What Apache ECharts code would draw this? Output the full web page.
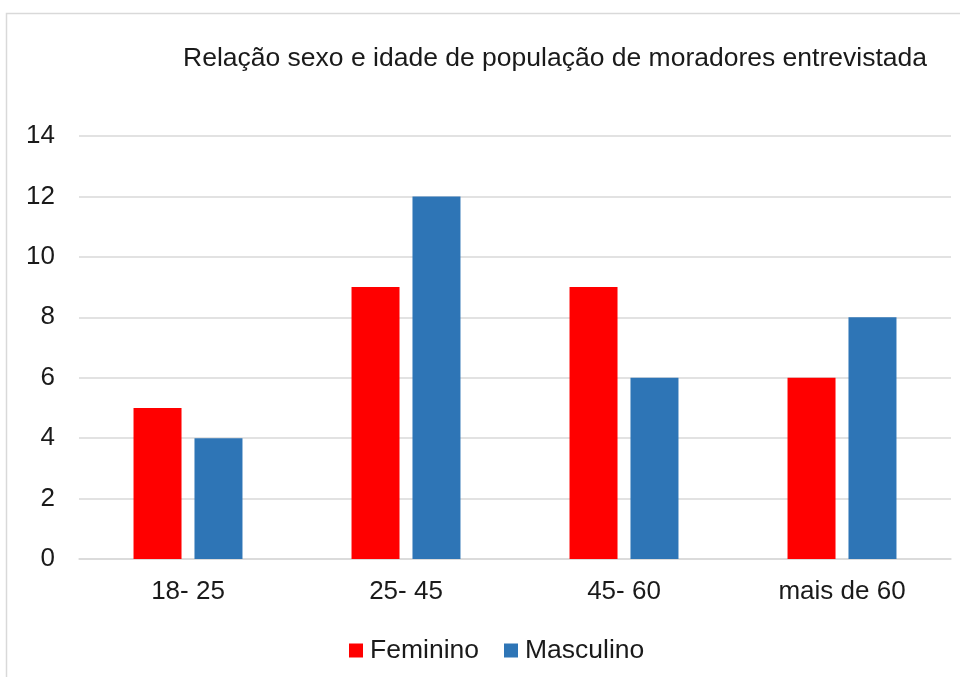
<!DOCTYPE html>
<html><head><meta charset="utf-8">
<script src="https://cdn.jsdelivr.net/npm/echarts@6/dist/echarts.min.js"></script>
<style>html,body{margin:0;padding:0;background:#fff}#c{width:960px;height:677px}</style>
</head><body><div id="c"></div>
<script>
const categories = ['18- 25', '25- 45', '45- 60', 'mais de 60'];
const feminino = [5, 9, 9, 6];
const masculino = [4, 12, 6, 8];
const yTicks = [0, 2, 4, 6, 8, 10, 12, 14];
const titleText = 'Relação sexo e idade de população de moradores entrevistada';

const font = 'Liberation Sans, Arial, sans-serif';
const chart = echarts.init(document.getElementById('c'));
chart.setOption({
  animation: false,
  graphic: [{
    type: 'rect', left: 4, top: 11, shape: {width: 970, height: 700},
    style: {fill: 'none', stroke: '#d9d9d9', lineWidth: 1.5}, silent: true
  }],
  title: {
    text: titleText, left: 550, top: 40, textAlign: 'center',
    textStyle: {fontFamily: font, fontSize: 26.5, fontWeight: 'normal', color: '#1a1a1a'}
  },
  legend: {
    data: ['Feminino', 'Masculino'], top: 632, left: 344,
    icon: 'rect', itemWidth: 14, itemHeight: 14, itemGap: 25,
    textStyle: {fontFamily: font, fontSize: 26.5, color: '#1a1a1a', padding: [0,0,0,2]}
  },
  grid: {left: 79, right: 9, top: 136, bottom: 677 - 559, containLabel: false},
  xAxis: {
    type: 'category', data: categories,
    axisLine: {lineStyle: {color: '#d9d9d9', width: 1.5}},
    axisTick: {show: false},
    axisLabel: {fontFamily: font, fontSize: 26, color: '#1a1a1a', margin: 20}
  },
  yAxis: {
    type: 'value', min: yTicks[0], max: yTicks[yTicks.length - 1], interval: 2,
    axisLine: {show: false}, axisTick: {show: false},
    splitLine: {lineStyle: {color: '#d9d9d9', width: 1.5}},
    axisLabel: {fontFamily: font, fontSize: 26, color: '#1a1a1a', margin: 24}
  },
  series: [
    {name: 'Feminino', type: 'bar', data: feminino, barWidth: 48, barGap: '27%',
     itemStyle: {color: '#ff0000'}},
    {name: 'Masculino', type: 'bar', data: masculino, barWidth: 48,
     itemStyle: {color: '#2e75b6'}}
  ]
});
</script></body></html>
